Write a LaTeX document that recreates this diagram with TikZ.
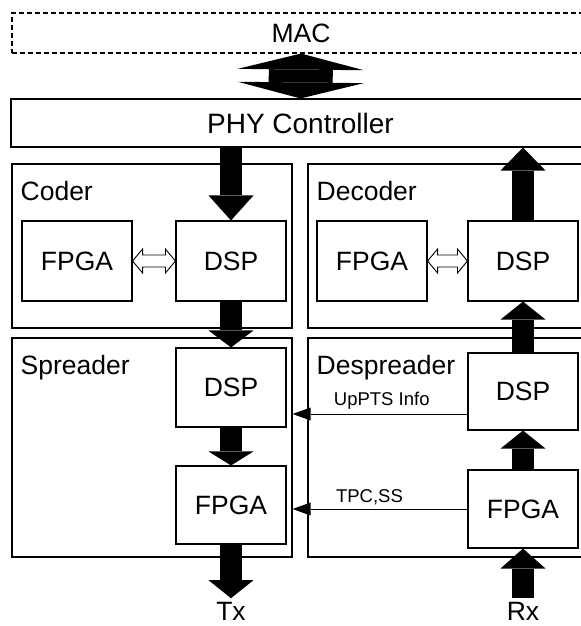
\documentclass[tikz,border=0pt]{standalone}
\usepackage{fontspec}
\setmainfont{Liberation Sans}
\usetikzlibrary{arrows.meta,calc}
\tikzset{
  grp/.style={draw, line width=1.1bp, inner sep=0pt},
  blk/.style={draw, line width=1.1bp, inner sep=0pt, minimum width=110bp, minimum height=78bp},
  grplabel/.style={anchor=north west, inner sep=0pt},
  small/.style={font=\fontsize{18.5bp}{22bp}\selectfont, inner sep=0pt},
  fat/.style={line width=22bp, -{Triangle[width=45bp, length=#1, line width'=0pt]}},
  fat/.default=18bp,
  fatboth/.style={line width=64bp,
    {Triangle[width=126bp, length=16bp, line width'=0pt]}-{Triangle[width=126bp, length=16bp, line width'=0pt]}},
  sig/.style={line width=1bp, -{Triangle[width=13bp, length=18bp, line width'=0pt]}},
  hollow/.style={line width=0.9bp, fill=white},
}

\begin{document}
\begin{tikzpicture}[x=1bp, y=-1bp, font=\fontsize{26.5bp}{30bp}\selectfont]
  \useasboundingbox (0,0) rectangle (581,626);
  \clip (0,0) rectangle (581,626);

  \node[grp, dashed, dash pattern=on 5bp off 3bp, minimum width=578bp, minimum height=40bp] (mac) at (301,33) {MAC};
  \node[grp, minimum width=579bp, minimum height=48bp, font=\fontsize{28bp}{32bp}\selectfont] (phy) at (300.5,123) {PHY Controller};

  % the four stages
  \node[grp, minimum width=280bp, minimum height=164bp] (coder) at (152,246) {};
  \node[grp, minimum width=282bp, minimum height=164bp] (dec) at (449,246) {};
  \node[grp, minimum width=280bp, minimum height=219bp] (spr) at (152,447.5) {};
  \node[grp, minimum width=282bp, minimum height=219bp] (despr) at (449,447.5) {};
  \node[grplabel] (lcoder) at ($(coder.north west)+(9,18)$) {Coder};
  \node[grplabel] (ldec) at ($(dec.north west)+(9,18)$) {Decoder};
  \node[grplabel] (lspr) at ($(spr.north west)+(9,18)$) {Spreader};
  \node[grplabel] (ldespr) at ($(despr.north west)+(9,18)$) {Despreader};

  \node[blk, minimum height=80bp] (cf) at (77,261) {FPGA};
  \node[blk, minimum height=80bp] (cd) at (231,261) {DSP};
  \node[blk, minimum height=80bp] (df) at (372,261) {FPGA};
  \node[blk, minimum height=80bp] (dd) at (523,261) {DSP};
  \node[blk, minimum height=79bp] (sd) at (231,387.5) {DSP};
  \node[blk] (sf) at (231,505) {FPGA};
  \node[blk, minimum height=77bp] (rd) at (523,391.5) {DSP};
  \node[blk] (rf) at (523,509) {FPGA};

  \node[inner sep=0pt] (tx) at (231,611) {Tx};
  \node[inner sep=0pt] (rx) at (523,611) {Rx};

  % data paths
  \draw[fatboth] (mac.south) -- (phy.north);
  \draw[fat=25bp] (cd.north |- phy.south) -- (cd.north);
  \draw[fat=23bp] (dd.north) -- (dd.north |- phy.south);
  \draw[fat=17bp] (cd.south) -- (sd.north);
  \draw[fat=14bp] (sd.south) -- (sf.north);
  \draw[fat, shorten >=3.5bp] (sf.south) -- (tx.north);
  \draw[fat=20bp, shorten <=3.5bp] (rx.north) -- (rf.south);
  \draw[fat] (rf.north) -- (rd.south);
  \draw[fat] (rd.north) -- (dd.south);

  \draw[hollow] (cf.east) -- ++(10,-12) -- ++(0,6) -- ($(cd.west)+(-10,-6)$) -- ++(0,-6) -- (cd.west)
    -- ++(-10,12) -- ++(0,-6) -- ($(cf.east)+(10,6)$) -- ++(0,6) -- cycle;
  \draw[hollow] (df.east) -- ++(10,-12) -- ++(0,6) -- ($(dd.west)+(-10,-6)$) -- ++(0,-6) -- (dd.west)
    -- ++(-10,12) -- ++(0,-6) -- ($(df.east)+(10,6)$) -- ++(0,6) -- cycle;

  % feedback to the spreader
  \coordinate (upts) at ($(rd.west)+(0,22.5)$);
  \draw[sig] (upts) -- (upts -| spr.east) node[small, pos=0.49, above=4bp] (lupts) {UpPTS Info};
  \draw[sig] (rf.west) -- (rf.west -| spr.east) node[small, pos=0.56, above=4bp] (ltpc) {TPC,SS};
\end{tikzpicture}
\end{document}
